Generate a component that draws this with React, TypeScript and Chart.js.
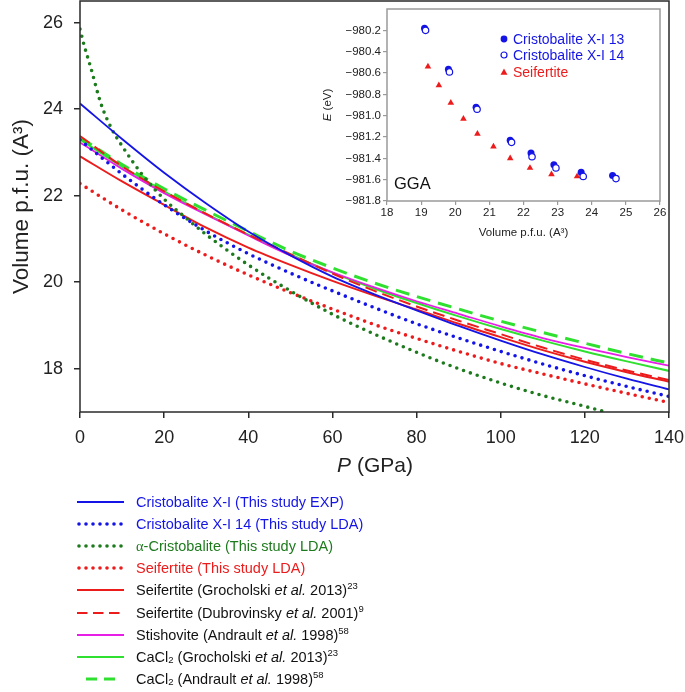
import React, { useEffect, useRef } from 'react';
import { Chart, registerables } from 'chart.js';

Chart.register(...registerables);

// ---------- Main chart data ----------
const P_GRID = [0, 10, 20, 30, 40, 50, 60, 70, 80, 90, 100, 110, 120, 130, 140];
const P_ALPHA = [0, 1, 2.5, 5, 7.5, 10, 15, 20, 25, 30, 40, 50, 60, 70, 80, 90, 100, 110, 120, 125];

const V_X1_EXP = [24.13, 23.31, 22.53, 21.82, 21.17, 20.62, 20.13, 19.72, 19.35, 18.99, 18.65, 18.33, 18.04, 17.77, 17.52];
const V_X1_14_LDA = [23.29, 22.5, 21.79, 21.18, 20.66, 20.21, 19.8, 19.41, 19.04, 18.71, 18.4, 18.11, 17.84, 17.59, 17.36];
const V_ALPHA_LDA = [25.85, 25.47, 24.98, 24.12, 23.55, 23.15, 22.46, 21.92, 21.5, 21.1, 20.4, 19.8, 19.26, 18.8, 18.38, 18.0, 17.67, 17.38, 17.13, 17.0];
const V_SEIF_LDA = [22.28, 21.67, 21.12, 20.62, 20.17, 19.76, 19.38, 19.02, 18.7, 18.4, 18.12, 17.88, 17.65, 17.43, 17.22];
const V_SEIF_GROCH = [22.91, 22.33, 21.79, 21.26, 20.8, 20.4, 20.03, 19.69, 19.37, 19.04, 18.73, 18.43, 18.16, 17.92, 17.7];
const V_SEIF_DUBR = [23.38, 22.68, 22.1, 21.58, 21.1, 20.65, 20.2, 19.8, 19.44, 19.11, 18.8, 18.49, 18.21, 17.96, 17.74];
const V_STISH = [23.23, 22.62, 22.06, 21.56, 21.08, 20.62, 20.23, 19.88, 19.56, 19.27, 18.98, 18.71, 18.48, 18.27, 18.07];
const V_CACL2_GROCH = [23.3, 22.67, 22.1, 21.58, 21.1, 20.64, 20.22, 19.85, 19.52, 19.21, 18.92, 18.65, 18.4, 18.17, 17.95];
const V_CACL2_ANDR = [23.35, 22.72, 22.16, 21.66, 21.18, 20.72, 20.33, 19.98, 19.67, 19.38, 19.1, 18.84, 18.59, 18.35, 18.13];

const X_TICKS = [0, 20, 40, 60, 80, 100, 120, 140];
const Y_TICKS = [18, 20, 22, 24, 26];

// ---------- Inset data ----------
const IN_V13 = [19.1, 19.8, 20.61, 21.61, 22.22, 22.89, 23.69, 24.61];
const IN_E13 = [-980.18, -980.565, -980.92, -981.23, -981.35, -981.46, -981.53, -981.56];
const IN_V14 = [19.13, 19.83, 20.64, 21.65, 22.25, 22.95, 23.75, 24.71];
const IN_E14 = [-980.2, -980.59, -980.94, -981.25, -981.385, -981.49, -981.57, -981.59];
const IN_VS = [19.2, 19.52, 19.87, 20.24, 20.65, 21.12, 21.61, 22.19, 22.82, 23.57];
const IN_ES = [-980.54, -980.715, -980.88, -981.03, -981.17, -981.29, -981.4, -981.49, -981.55, -981.57];
const IN_X_TICKS = [18, 19, 20, 21, 22, 23, 24, 25, 26];
const IN_Y_TICKS = [-981.8, -981.6, -981.4, -981.2, -981.0, -980.8, -980.6, -980.4, -980.2];

const FONT = '"Liberation Sans", Arial, Helvetica, sans-serif';
const BLUE = '#1414e6';
const DKGREEN = '#1d7a1d';
const RED = '#ec1c1c';
const MAGENTA = '#e61ee6';
const LTGREEN = '#30e030';
const AXIS = '#2a2a2a';
const INSET_FRAME = '#9a9a9a';

const toXY = (xs: number[], ys: number[]) => xs.map((x, i) => ({ x, y: ys[i] }));

const boxPlugin = (id: string, color: string, width: number) => ({
  id,
  afterDraw(chart: any) {
    const { ctx, chartArea } = chart;
    const { left, top, right, bottom } = chartArea;
    ctx.save();
    ctx.strokeStyle = color;
    ctx.lineWidth = width;
    ctx.strokeRect(left, top, right - left, bottom - top);
    ctx.restore();
  },
});

const zeroPad = (s: any) => {
  s.paddingTop = 0;
  s.paddingBottom = 0;
  s.paddingLeft = 0;
  s.paddingRight = 0;
};

const solid = (label: string, xs: number[], ys: number[], color: string, w = 2) => ({
  label,
  data: toXY(xs, ys),
  borderColor: color,
  backgroundColor: color,
  borderWidth: w,
  pointRadius: 0,
  cubicInterpolationMode: 'monotone' as const,
  fill: false,
});

const dotted = (label: string, xs: number[], ys: number[], color: string) => ({
  ...solid(label, xs, ys, color, 3.6),
  borderDash: [0, 7.2],
  borderCapStyle: 'round' as const,
});

const dashed = (label: string, xs: number[], ys: number[], color: string, w: number, dash: number[]) => ({
  ...solid(label, xs, ys, color, w),
  borderDash: dash,
});

function MainChart() {
  const ref = useRef<HTMLCanvasElement>(null);
  useEffect(() => {
    if (!ref.current) return;
    const chart = new Chart(ref.current, {
      type: 'line',
      data: {
        datasets: [
          solid('Cristobalite X-I (This study EXP)', P_GRID, V_X1_EXP, BLUE, 1.8),
          dotted('Cristobalite X-I 14 (This study LDA)', P_GRID, V_X1_14_LDA, BLUE),
          dotted('α-Cristobalite (This study LDA)', P_ALPHA, V_ALPHA_LDA, DKGREEN),
          dotted('Seifertite (This study LDA)', P_GRID, V_SEIF_LDA, RED),
          solid('Seifertite (Grocholski et al. 2013)', P_GRID, V_SEIF_GROCH, RED, 2),
          dashed('Seifertite (Dubrovinsky et al. 2001)', P_GRID, V_SEIF_DUBR, RED, 2, [12, 6]),
          solid('Stishovite (Andrault et al. 1998)', P_GRID, V_STISH, MAGENTA, 1.8),
          solid('CaCl2 (Grocholski et al. 2013)', P_GRID, V_CACL2_GROCH, LTGREEN, 2),
          dashed('CaCl2 (Andrault et al. 1998)', P_GRID, V_CACL2_ANDR, LTGREEN, 3, [14, 8]),
        ] as any,
      },
      options: {
        responsive: false,
        animation: false,
        layout: { padding: { top: 1, right: 16, left: 0, bottom: 0 } },
        plugins: { legend: { display: false }, tooltip: { enabled: false } },
        scales: {
          x: {
            type: 'linear',
            min: 0,
            max: 140,
            afterBuildTicks: (s: any) => {
              s.ticks = X_TICKS.map((v) => ({ value: v }));
            },
            afterFit: (s: any) => {
              s.height = 280;
              zeroPad(s);
            },
            ticks: { font: { family: FONT, size: 18 }, color: '#222', padding: 9, maxRotation: 0, autoSkip: false },
            grid: { drawOnChartArea: false, drawTicks: true, tickLength: 6, color: AXIS, lineWidth: 1.5 },
            border: { display: false },
          },
          y: {
            type: 'linear',
            min: 17,
            max: 26.5,
            afterBuildTicks: (s: any) => {
              s.ticks = Y_TICKS.map((v) => ({ value: v }));
            },
            afterFit: (s: any) => {
              s.width = 80;
              zeroPad(s);
            },
            ticks: { font: { family: FONT, size: 18 }, color: '#222', padding: 11, autoSkip: false },
            grid: { drawOnChartArea: false, drawTicks: true, tickLength: 6, color: AXIS, lineWidth: 1.5 },
            border: { display: false },
            title: {
              display: true,
              text: 'Volume p.f.u. (A³)',
              font: { family: FONT, size: 22.5 },
              color: '#222',
              padding: { top: 8, bottom: 0 },
            },
          },
        },
      } as any,
      plugins: [boxPlugin('mainBox', AXIS, 1.5)],
    });
    return () => chart.destroy();
  }, []);
  return <canvas ref={ref} width={685} height={692} style={{ position: 'absolute', left: 0, top: 0 }} />;
}

function InsetChart() {
  const ref = useRef<HTMLCanvasElement>(null);
  useEffect(() => {
    if (!ref.current) return;
    const chart = new Chart(ref.current, {
      type: 'scatter',
      data: {
        datasets: [
          {
            label: 'Cristobalite X-I 14',
            data: toXY(IN_V14, IN_E14),
            pointStyle: 'circle',
            pointRadius: 3.2,
            borderWidth: 1.2,
            borderColor: BLUE,
            backgroundColor: '#ffffff',
            order: 0,
          },
          {
            label: 'Cristobalite X-I 13',
            data: toXY(IN_V13, IN_E13),
            pointStyle: 'circle',
            pointRadius: 3.5,
            borderWidth: 0,
            borderColor: BLUE,
            backgroundColor: BLUE,
            order: 1,
          },
          {
            label: 'Seifertite',
            data: toXY(IN_VS, IN_ES),
            pointStyle: 'triangle',
            pointRadius: 3.8,
            borderWidth: 0,
            borderColor: RED,
            backgroundColor: RED,
            order: 2,
          },
        ] as any,
      },
      options: {
        responsive: false,
        animation: false,
        layout: { padding: { top: 9, right: 10, left: 0, bottom: 0 } },
        plugins: { legend: { display: false }, tooltip: { enabled: false } },
        scales: {
          x: {
            type: 'linear',
            min: 18,
            max: 26,
            afterBuildTicks: (s: any) => {
              s.ticks = IN_X_TICKS.map((v) => ({ value: v }));
            },
            afterFit: (s: any) => {
              s.height = 44;
              zeroPad(s);
            },
            ticks: { font: { family: FONT, size: 11.5 }, color: '#222', padding: 1, maxRotation: 0, autoSkip: false },
            grid: { drawOnChartArea: false, drawTicks: true, tickLength: 4, color: INSET_FRAME, lineWidth: 1.2 },
            border: { display: false },
            title: {
              display: true,
              text: 'Volume p.f.u. (A³)',
              font: { family: FONT, size: 11.5 },
              color: '#222',
              padding: { top: 0, bottom: 5 },
            },
          },
          y: {
            type: 'linear',
            min: -981.8,
            max: -980.0,
            afterBuildTicks: (s: any) => {
              s.ticks = IN_Y_TICKS.map((v) => ({ value: v }));
            },
            afterFit: (s: any) => {
              s.width = 87;
              zeroPad(s);
            },
            ticks: {
              font: { family: FONT, size: 11.5 },
              color: '#222',
              padding: 2,
              autoSkip: false,
              callback: (v: any) => Number(v).toFixed(1).replace('-', '\u2212'),
            },
            grid: { drawOnChartArea: false, drawTicks: true, tickLength: 4, color: INSET_FRAME, lineWidth: 1.2 },
            border: { display: false },
          },
        },
      } as any,
      plugins: [boxPlugin('insetBox', INSET_FRAME, 1.5)],
    });
    return () => chart.destroy();
  }, []);
  return <canvas ref={ref} width={370} height={245} style={{ position: 'absolute', left: 300, top: 0 }} />;
}

type SampleKind = 'solid' | 'dotted' | 'dashedRed' | 'dashedGreen';

function Sample({ kind, color }: { kind: SampleKind; color: string }) {
  let content: React.ReactNode = null;
  if (kind === 'solid') content = <line x1={1} y1={6} x2={48} y2={6} stroke={color} strokeWidth={2} />;
  if (kind === 'dotted')
    content = (
      <g>
        {[0, 1, 2, 3, 4, 5, 6].map((i) => (
          <circle key={i} cx={3 + i * 7} cy={6} r={1.8} fill={color} />
        ))}
      </g>
    );
  if (kind === 'dashedRed')
    content = <line x1={1} y1={6} x2={47} y2={6} stroke={color} strokeWidth={2} strokeDasharray="10.5 5.5" />;
  if (kind === 'dashedGreen')
    content = <line x1={10} y1={6} x2={39} y2={6} stroke={color} strokeWidth={3} strokeDasharray="11 7" />;
  return (
    <svg width={50} height={12} style={{ position: 'absolute', left: 76, top: 3 }}>
      {content}
    </svg>
  );
}

const sup = (t: string) => <sup style={{ fontSize: '9.5px', verticalAlign: 'top', position: 'relative', top: -4 }}>{t}</sup>;
const sub = (t: string) => <sub style={{ fontSize: '9.5px', verticalAlign: 'bottom', position: 'relative', top: 3 }}>{t}</sub>;

const LEGEND_ROWS: { kind: SampleKind; color: string; textColor: string; text: React.ReactNode }[] = [
  { kind: 'solid', color: BLUE, textColor: BLUE, text: 'Cristobalite X-I (This study EXP)' },
  { kind: 'dotted', color: BLUE, textColor: BLUE, text: 'Cristobalite X-I 14 (This study LDA)' },
  {
    kind: 'dotted',
    color: DKGREEN,
    textColor: DKGREEN,
    text: (
      <>
        <span style={{ fontFamily: '"Liberation Serif", serif' }}>α</span>-Cristobalite (This study LDA)
      </>
    ),
  },
  { kind: 'dotted', color: RED, textColor: RED, text: 'Seifertite (This study LDA)' },
  {
    kind: 'solid',
    color: RED,
    textColor: '#111',
    text: (
      <>
        Seifertite (Grocholski <i>et al.</i> 2013){sup('23')}
      </>
    ),
  },
  {
    kind: 'dashedRed',
    color: RED,
    textColor: '#111',
    text: (
      <>
        Seifertite (Dubrovinsky <i>et al.</i> 2001){sup('9')}
      </>
    ),
  },
  {
    kind: 'solid',
    color: MAGENTA,
    textColor: '#111',
    text: (
      <>
        Stishovite (Andrault <i>et al.</i> 1998){sup('58')}
      </>
    ),
  },
  {
    kind: 'solid',
    color: LTGREEN,
    textColor: '#111',
    text: (
      <>
        CaCl{sub('2')} (Grocholski <i>et al.</i> 2013){sup('23')}
      </>
    ),
  },
  {
    kind: 'dashedGreen',
    color: LTGREEN,
    textColor: '#111',
    text: (
      <>
        CaCl{sub('2')} (Andrault <i>et al.</i> 1998){sup('58')}
      </>
    ),
  },
];

const LEGEND_TOP = 502;
const LEGEND_STEP = 22.1;

function InsetMarker({ kind }: { kind: 'filled' | 'open' | 'tri' }) {
  return (
    <svg width={10} height={10} style={{ position: 'absolute', left: -5, top: -5 }}>
      {kind === 'filled' && <circle cx={5} cy={5} r={3.4} fill={BLUE} />}
      {kind === 'open' && <circle cx={5} cy={5} r={3} fill="#fff" stroke={BLUE} strokeWidth={1.2} />}
      {kind === 'tri' && <polygon points="5,1.4 8.5,7.8 1.5,7.8" fill={RED} />}
    </svg>
  );
}

const INSET_LEGEND = [
  { kind: 'filled' as const, label: 'Cristobalite X-I 13', color: BLUE, y: 38.5 },
  { kind: 'open' as const, label: 'Cristobalite X-I 14', color: BLUE, y: 55 },
  { kind: 'tri' as const, label: 'Seifertite', color: RED, y: 71.5 },
];

export default function App() {
  return (
    <div
      style={{
        position: 'absolute',
        left: 0,
        top: 0,
        width: 685,
        height: 692,
        background: '#fff',
        overflow: 'hidden',
        fontFamily: FONT,
      }}
    >
      <MainChart />
      <InsetChart />
      {/* main x-axis title */}
      <div
        style={{
          position: 'absolute',
          left: 275,
          width: 200,
          top: 452,
          height: 26,
          lineHeight: '26px',
          textAlign: 'center',
          fontSize: 21,
          color: '#222',
        }}
      >
        <i>P</i> (GPa)
      </div>
      {/* inset y title */}
      <div
        style={{
          position: 'absolute',
          left: 327 - 40,
          top: 105 - 8,
          width: 80,
          height: 16,
          lineHeight: '16px',
          textAlign: 'center',
          fontSize: 11.5,
          color: '#222',
          transform: 'rotate(-90deg)',
        }}
      >
        <i>E</i> (eV)
      </div>
      {/* GGA label */}
      <div
        style={{ position: 'absolute', left: 394, top: 172, height: 22, lineHeight: '22px', fontSize: 16.5, color: '#111' }}
      >
        GGA
      </div>
      {/* inset legend */}
      {INSET_LEGEND.map((r) => (
        <div key={r.label} style={{ position: 'absolute', left: 504, top: r.y }}>
          <InsetMarker kind={r.kind} />
          <div
            style={{
              position: 'absolute',
              left: 9,
              top: -9,
              height: 18,
              lineHeight: '18px',
              whiteSpace: 'nowrap',
              fontSize: 14,
              color: r.color,
            }}
          >
            {r.label}
          </div>
        </div>
      ))}
      {/* main legend */}
      {LEGEND_ROWS.map((r, i) => (
        <div
          key={i}
          style={{ position: 'absolute', left: 0, top: LEGEND_TOP + i * LEGEND_STEP - 9, width: 685, height: 18 }}
        >
          <Sample kind={r.kind} color={r.color} />
          <div
            style={{
              position: 'absolute',
              left: 136,
              top: 0,
              height: 18,
              lineHeight: '18px',
              whiteSpace: 'nowrap',
              fontSize: 14.5,
              color: r.textColor,
            }}
          >
            {r.text}
          </div>
        </div>
      ))}
    </div>
  );
}
